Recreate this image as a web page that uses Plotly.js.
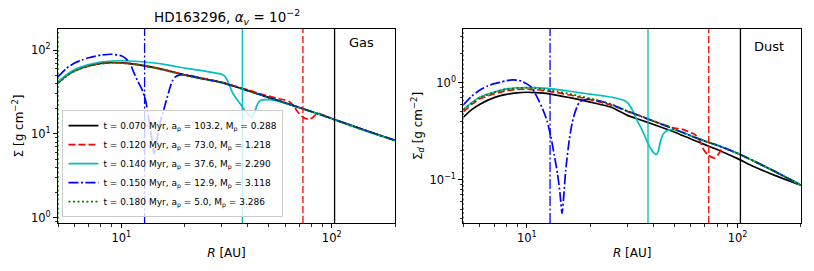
<!DOCTYPE html>
<html>
<head>
<meta charset="utf-8">
<script src="https://cdn.plot.ly/plotly-3.0.1.min.js"></script>
<style>html,body{margin:0;padding:0;background:#fff;}#chart{width:814px;height:271px;}</style>
</head>
<body>
<div id="chart"></div>
<script>
// ---------- series metadata ----------
const tMyr  = [0.070, 0.120, 0.140, 0.150, 0.180];
const apAU  = [103.2, 73.0, 37.6, 12.9, 5.0];
const mpMj  = [0.288, 1.218, 2.290, 3.118, 3.286];
const colors = ['#000000', '#ff0000', '#00bfbf', '#0000ff', '#008000'];
const dashes = ['solid', '7px,3px', 'solid', '10px,2.5px,2px,2.5px', '2px,2.5px'];

// ---------- gas surface density [g cm^-2] ----------
const rGasBase = [5, 5.5, 6, 7, 8, 9, 10, 11, 12, 14, 16, 18, 20, 25, 30, 35, 40, 50, 60, 70, 80, 100, 120, 150, 200];
const gasBlack = [41, 50, 57, 65, 69.5, 71, 70.5, 69, 67, 62.5, 58, 54, 50.5, 45, 41, 36.5, 32.8, 27.3, 23.5, 20.7, 18.5, 15.3, 13.0, 10.7, 8.4];
const gasGreen = [40, 49, 56, 64.5, 69, 70.5, 70, 68.5, 66.5, 62, 57.5, 53.5, 50, 44.7, 40.8, 36.4, 32.7, 27.2, 23.4, 20.6, 18.4, 15.2, 12.9, 10.6, 8.35];

const rGasRed = [5, 5.5, 6, 7, 8, 9, 10, 11, 12, 14, 16, 18, 20, 25, 30, 35, 40, 45, 50, 55, 60, 63, 66, 69, 72, 75, 78, 81, 84, 87, 90, 95, 100, 120, 150, 200];
const gasRed = [40.5, 49.5, 56.5, 64.5, 69, 70.5, 70, 68.8, 67, 62.7, 58.3, 54.3, 50.8, 45.4, 41.4, 37, 33.5, 30.5, 28.3, 26.6, 25.3, 24.2, 21.5, 18.3, 16.3, 15.3, 15.0, 15.6, 17.0, 17.6, 17.0, 16.1, 15.3, 13.0, 10.7, 8.4];

const rGasCyan = [5, 5.5, 6, 7, 8, 9, 10, 11, 12, 14, 16, 18, 20, 25, 30, 31, 32, 33, 34, 35, 36, 37, 38, 39, 40, 41, 42, 43, 44, 45, 46, 48, 50, 55, 60, 70, 80, 100, 120, 150, 200];
const gasCyan = [42, 51, 58.5, 67, 72, 74, 74.5, 74, 73, 70.5, 67.5, 64, 61, 56, 51.5, 49, 43, 35.5, 30, 27, 24.5, 22.3, 20.3, 18.5, 17.2, 16.3, 16.2, 18, 21.5, 24, 25.2, 25.7, 25.6, 24.8, 23.2, 20.6, 18.4, 15.2, 12.9, 10.6, 8.4];

const rGasBlue = [5, 5.5, 6, 6.5, 7, 8, 9, 10, 10.5, 11, 11.5, 12, 12.5, 13, 13.5, 14, 14.3, 14.7, 15, 15.5, 16, 16.5, 17, 17.5, 18, 19, 20, 25, 30, 35, 40, 50, 60, 70, 80, 100, 120, 150, 200];
const gasBlue = [48, 61, 70, 76, 81, 87, 89, 85.5, 79, 69, 53, 42, 34.5, 26, 15.5, 8.5, 5.8, 7.8, 10.5, 15.5, 20.5, 27, 35, 43, 47.5, 50.5, 51, 45, 41, 36.5, 32.8, 27.3, 23.5, 20.7, 18.5, 15.3, 13.0, 10.7, 8.4];

// ---------- dust surface density [g cm^-2] ----------
const rDustBase = [5, 5.5, 6, 7, 8, 9, 10, 11, 12, 14, 16, 18, 20, 25, 30, 35, 40, 50, 60, 70, 80, 100, 120, 150, 200];
const dustBlack = [0.44, 0.53, 0.60, 0.70, 0.755, 0.785, 0.795, 0.79, 0.778, 0.74, 0.70, 0.665, 0.63, 0.56, 0.46, 0.41, 0.37, 0.31, 0.263, 0.23, 0.205, 0.165, 0.136, 0.111, 0.088];
const dustGreen = [0.524, 0.62, 0.70, 0.79, 0.855, 0.878, 0.883, 0.875, 0.855, 0.81, 0.765, 0.72, 0.685, 0.60, 0.51, 0.45, 0.403, 0.332, 0.284, 0.251, 0.227, 0.187, 0.155, 0.122, 0.088];

const rDustRed = [5, 5.5, 6, 7, 8, 9, 10, 11, 12, 14, 16, 18, 20, 25, 30, 35, 40, 45, 50, 55, 60, 63, 66, 69, 72, 75, 78, 81, 84, 87, 90, 100, 120, 150, 200];
const dustRed = [0.50, 0.60, 0.68, 0.765, 0.825, 0.85, 0.855, 0.847, 0.828, 0.787, 0.745, 0.703, 0.668, 0.59, 0.505, 0.448, 0.40, 0.368, 0.34, 0.33, 0.305, 0.29, 0.255, 0.205, 0.182, 0.172, 0.167, 0.182, 0.205, 0.213, 0.205, 0.187, 0.155, 0.122, 0.088];

const rDustCyan = [5, 5.5, 6, 7, 8, 9, 10, 11, 12, 14, 16, 18, 20, 23, 25, 28, 29, 30, 31, 32, 33, 34, 35, 36, 37, 38, 39, 40, 41, 42, 43, 44, 45, 46, 48, 50, 55, 60, 70, 80, 100, 120, 150, 200];
const dustCyan = [0.53, 0.625, 0.71, 0.80, 0.86, 0.885, 0.89, 0.887, 0.875, 0.848, 0.815, 0.785, 0.76, 0.73, 0.71, 0.67, 0.655, 0.625, 0.567, 0.50, 0.43, 0.375, 0.335, 0.295, 0.255, 0.226, 0.205, 0.19, 0.181, 0.195, 0.245, 0.285, 0.305, 0.318, 0.328, 0.325, 0.31, 0.283, 0.25, 0.227, 0.187, 0.155, 0.122, 0.088];

const rDustBlue = [5, 5.5, 6, 6.5, 7, 7.5, 8, 8.5, 9, 9.5, 10, 10.5, 11, 11.5, 12, 12.5, 13, 13.5, 14, 14.4, 14.7, 15, 15.3, 15.9, 16.4, 16.8, 17.3, 17.7, 18.3, 19, 20, 22, 25, 30, 35, 40, 50, 60, 70, 80, 100, 120, 150, 200];
const dustBlue = [0.59, 0.73, 0.84, 0.92, 0.975, 1.01, 1.045, 1.066, 1.06, 1.03, 0.97, 0.9, 0.76, 0.63, 0.51, 0.40, 0.28, 0.18, 0.115, 0.07, 0.045, 0.07, 0.125, 0.255, 0.38, 0.466, 0.56, 0.62, 0.655, 0.67, 0.675, 0.65, 0.60, 0.51, 0.448, 0.40, 0.332, 0.283, 0.25, 0.226, 0.187, 0.155, 0.122, 0.088];

// ---------- axes ----------
const xRangeAU = [5, 200];
const gasYRange = [0.87, 178];
const dustYRange = [0.0359, 3.56];
const xMajor = [10, 100];
const xMajorText = ['10<sup>1</sup>', '10<sup>2</sup>'];
const xMinor = [5, 6, 7, 8, 9, 20, 30, 40, 50, 60, 70, 80, 90, 200];
const gasMajor = [1, 10, 100];
const gasMajorText = ['10<sup>0</sup>', '10<sup>1</sup>', '10<sup>2</sup>'];
const gasMinor = [0.9, 2, 3, 4, 5, 6, 7, 8, 9, 20, 30, 40, 50, 60, 70, 80, 90];
const dustMajor = [0.1, 1];
const dustMajorText = ['10<sup>\u22121</sup>', '10<sup>0</sup>'];
const dustMinor = [0.04, 0.05, 0.06, 0.07, 0.08, 0.09, 0.2, 0.3, 0.4, 0.5, 0.6, 0.7, 0.8, 0.9, 2, 3];

const gasR = [rGasBase, rGasRed, rGasCyan, rGasBlue, rGasBase];
const gasV = [gasBlack, gasRed, gasCyan, gasBlue, gasGreen];
const dustR = [rDustBase, rDustRed, rDustCyan, rDustBlue, rDustBase];
const dustV = [dustBlack, dustRed, dustCyan, dustBlue, dustGreen];

const FONT = 'DejaVu Sans, Liberation Sans, sans-serif';
const traces = [];
for (let i = 0; i < 5; i++) {
  const name = 't = ' + tMyr[i].toFixed(3) + ' Myr, a<sub>p</sub> = ' + apAU[i].toFixed(1) + ', M<sub>p</sub> = ' + mpMj[i].toFixed(3);
  const w = (i === 4) ? 1.8 : 1.7;
  traces.push({x: gasR[i], y: gasV[i], xaxis: 'x', yaxis: 'y', type: 'scatter', mode: 'lines', name: name,
    legendgroup: 'g' + i, line: {color: colors[i], dash: dashes[i], width: w, shape: 'spline', smoothing: 0.6}, hoverinfo: 'skip'});
}
for (let i = 0; i < 5; i++) {
  const w = (i === 4) ? 1.8 : 1.7;
  traces.push({x: dustR[i], y: dustV[i], xaxis: 'x2', yaxis: 'y2', type: 'scatter', mode: 'lines', showlegend: false,
    legendgroup: 'g' + i, line: {color: colors[i], dash: dashes[i], width: w, shape: 'spline', smoothing: 0.6}, hoverinfo: 'skip'});
}
// planet position markers (vertical lines at a_p)
for (let i = 0; i < 5; i++) {
  traces.push({x: [apAU[i], apAU[i]], y: gasYRange, xaxis: 'x', yaxis: 'y', type: 'scatter', mode: 'lines', showlegend: false,
    line: {color: colors[i], dash: dashes[i], width: 1.3}, hoverinfo: 'skip'});
  traces.push({x: [apAU[i], apAU[i]], y: dustYRange, xaxis: 'x2', yaxis: 'y2', type: 'scatter', mode: 'lines', showlegend: false,
    line: {color: colors[i], dash: dashes[i], width: 1.3}, hoverinfo: 'skip'});
}

const L = Math.log10;
function xax(domain, anchor) {
  return {domain: domain, anchor: anchor, type: 'log', range: [L(xRangeAU[0]), L(xRangeAU[1])],
    tickmode: 'array', tickvals: xMajor, ticktext: xMajorText, ticks: 'outside', ticklen: 4, tickwidth: 1, tickcolor: '#000',
    minor: {tickmode: 'array', tickvals: xMinor, ticks: 'outside', ticklen: 2.5, tickwidth: 0.8, tickcolor: '#000', showgrid: false},
    showline: true, mirror: true, linecolor: '#000', linewidth: 1, showgrid: false, zeroline: false,
    tickfont: {family: FONT, size: 11.5, color: '#000'},
    title: {text: '<i>R</i> [AU]', font: {family: FONT, size: 12, color: '#000'}, standoff: 4}};
}
function yax(domain, anchor, range, tv, tt, minor, title) {
  return {domain: domain, anchor: anchor, type: 'log', range: [L(range[0]), L(range[1])],
    tickmode: 'array', tickvals: tv, ticktext: tt, ticks: 'outside', ticklen: 4, tickwidth: 1, tickcolor: '#000',
    minor: {tickmode: 'array', tickvals: minor, ticks: 'outside', ticklen: 2.5, tickwidth: 0.8, tickcolor: '#000', showgrid: false},
    showline: true, mirror: true, linecolor: '#000', linewidth: 1, showgrid: false, zeroline: false,
    tickfont: {family: FONT, size: 11.5, color: '#000'},
    title: {text: title, font: {family: FONT, size: 12, color: '#000'}, standoff: 4}};
}

const layout = {
  width: 814, height: 271,
  margin: {l: 58, r: 13, t: 29, b: 48, pad: 0},
  paper_bgcolor: '#fff', plot_bgcolor: '#fff',
  font: {family: FONT, color: '#000'},
  showlegend: true,
  legend: {x: 0.006, y: 0.03, xanchor: 'left', yanchor: 'bottom', bgcolor: 'rgba(255,255,255,0.8)',
    bordercolor: '#cccccc', borderwidth: 1, font: {family: FONT, size: 9, color: '#000'}, itemwidth: 30, tracegroupgap: 0},
  xaxis: xax([0, 0.4536], 'y'),
  yaxis: yax([0, 1], 'x', gasYRange, gasMajor, gasMajorText, gasMinor, '\u03a3 [g cm<sup>\u22122</sup>]'),
  xaxis2: xax([0.5455, 1], 'y2'),
  yaxis2: yax([0, 1], 'x2', dustYRange, dustMajor, dustMajorText, dustMinor, '\u03a3<sub><i>d</i></sub> [g cm<sup>\u22122</sup>]'),
  annotations: [
    {xref: 'x domain', yref: 'y domain', x: 0.5, y: 1, xanchor: 'center', yanchor: 'bottom', yshift: 0, showarrow: false,
     text: 'HD163296, <i>\u03b1<sub>v</sub></i> = 10<sup>\u22122</sup>', font: {family: FONT, size: 13.5, color: '#000'}},
    {xref: 'x domain', yref: 'y domain', x: 0.901, y: 0.928, xanchor: 'center', yanchor: 'middle', showarrow: false,
     text: 'Gas', font: {family: FONT, size: 13, color: '#000'}},
    {xref: 'x2 domain', yref: 'y2 domain', x: 0.906, y: 0.912, xanchor: 'center', yanchor: 'middle', showarrow: false,
     text: 'Dust', font: {family: FONT, size: 13, color: '#000'}}
  ]
};

Plotly.newPlot('chart', traces, layout, {displayModeBar: false, staticPlot: true});
</script>
</body>
</html>
